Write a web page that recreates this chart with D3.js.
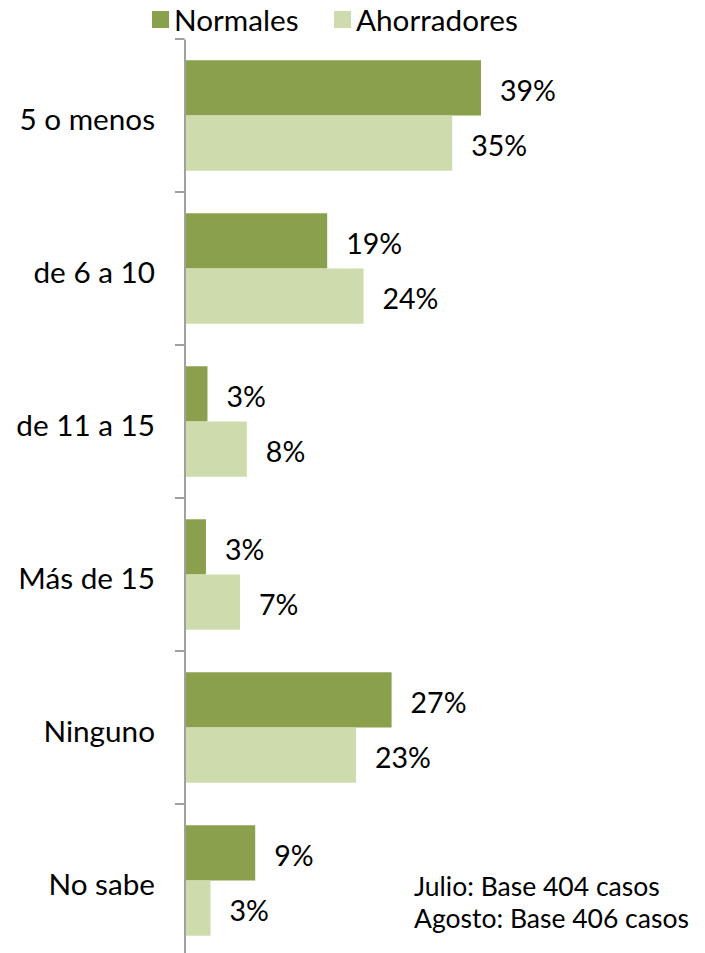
<!DOCTYPE html>
<html><head><meta charset="utf-8">
<script src="https://cdn.jsdelivr.net/npm/d3@7"></script>
<style>html,body{margin:0;padding:0;background:#fff;} svg{display:block;} text{font-family:Lato,"Open Sans",sans-serif;fill:#000;}</style>
</head><body>
<script>
const categories = ["5 o menos", "de 6 a 10", "de 11 a 15", "Más de 15", "Ninguno", "No sabe"];
const seriesNames = ["Normales", "Ahorradores"];
const normales = [39, 18.7, 2.9, 2.7, 27.2, 9.2];
const ahorradores = [35.2, 23.5, 8.1, 7.2, 22.5, 3.3];
const colors = ["#8aa04c", "#cedcad"];
const notes = ["Julio: Base 404 casos", "Agosto: Base 406 casos"];

const W = 705, H = 953;
const svg = d3.select("body").append("svg").attr("width", W).attr("height", H);

const x = d3.scaleLinear().domain([0, 39]).range([185.5, 481]);
const y0 = d3.scaleBand().domain(categories).range([39, 957]);
const y1 = d3.scaleBand().domain(seriesNames).range([0, y0.bandwidth()]).paddingInner(0).paddingOuter(0.385);

const data = categories.map((c, i) => ({cat: c, vals: [normales[i], ahorradores[i]]}));

const g = svg.append("g");
data.forEach(d => {
  d.vals.forEach((v, j) => {
    const yy = y0(d.cat) + y1(seriesNames[j]);
    g.append("rect").attr("x", x(0)).attr("y", yy)
      .attr("width", x(v) - x(0)).attr("height", y1.bandwidth())
      .attr("fill", colors[j]);
    g.append("text").attr("x", x(v) + 19).attr("y", yy + y1.bandwidth() / 2 + 2)
      .attr("dominant-baseline", "central")
      .style("font-size", "28.5px")
      .text(Math.round(v) + "%");
  });
});

// axis
const axis = svg.append("g").attr("transform", "translate(184.5,0)")
  .call(d3.axisLeft(y0).tickSize(0).tickFormat(""));
axis.select(".domain").attr("stroke", "#a0a0a0").attr("stroke-width", 2);
axis.selectAll(".tick").remove();
const tickYs = categories.map(c => y0(c)).concat([y0.range()[1]]);
svg.append("g").selectAll("line").data(tickYs).join("line")
  .attr("x1", 175).attr("x2", 184.5).attr("y1", d => d).attr("y2", d => d)
  .attr("stroke", "#a0a0a0").attr("stroke-width", 2);

svg.append("g").selectAll("text").data(categories).join("text")
  .attr("x", 155).attr("y", d => y0(d) + y0.bandwidth() / 2 + 3)
  .attr("text-anchor", "end").attr("dominant-baseline", "central")
  .style("font-size", "29.7px").text(d => d);

// legend
const legX = [152, 334];
const leg = svg.append("g");
seriesNames.forEach((s, i) => {
  leg.append("rect").attr("x", legX[i]).attr("y", 11).attr("width", 17).attr("height", 17).attr("fill", colors[i]);
  leg.append("text").attr("x", legX[i] + 22).attr("y", 31).style("font-size", "29.7px").text(s);
});

// notes
svg.append("g").selectAll("text").data(notes).join("text")
  .attr("x", 414).attr("y", (d, i) => 896 + i * 32)
  .style("font-size", "26.5px").text(d => d);
</script>
</body></html>
